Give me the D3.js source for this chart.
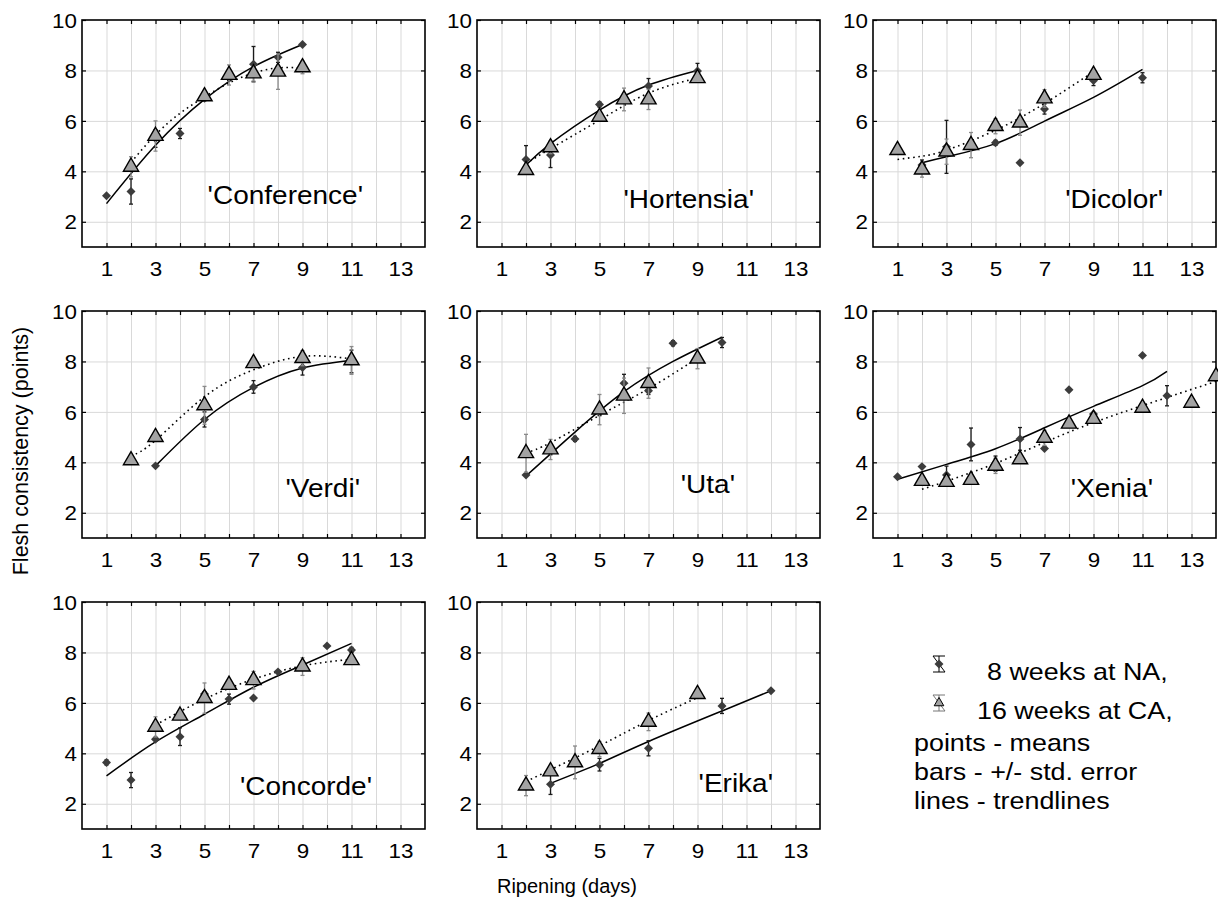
<!DOCTYPE html>
<html>
<head>
<meta charset="utf-8">
<script src="https://cdn.jsdelivr.net/npm/d3@7"></script>
<style>
  body { margin: 0; background: #fff; }
  text { font-family: "Liberation Sans", Arial, sans-serif; fill: #000; }
</style>
</head>
<body>
<svg id="chart" width="1218" height="906"></svg>
<script>
// cultivar names, one per panel
var cultivars = ["'Conference'", "'Hortensia'", "'Dicolor'", "'Verdi'", "'Uta'", "'Xenia'", "'Concorde'", "'Erika'"];

// [day, mean, std. error] - 8 weeks at NA (diamonds) / 16 weeks at CA (triangles)
var conferenceNA = [[1, 3.03, 0], [2, 3.2, 0.5], [3, 5.3, 0.35], [4, 5.5, 0.2], [5, 6.9, 0.1], [6, 7.8, 0.2], [7, 8.25, 0.7], [8, 8.52, 0.2], [9, 9.03, 0]];
var conferenceCA = [[2, 4.18, 0.4], [3, 5.4, 0.6], [5, 6.97, 0.1], [6, 7.82, 0.4], [7, 7.88, 0.3], [8, 7.95, 0.7], [9, 8.12, 0.25]];
var hortensiaNA = [[2, 4.47, 0.55], [3, 4.65, 0.5], [5, 6.65, 0.1], [6, 6.9, 0.1], [7, 7.38, 0.3], [9, 7.98, 0.3]];
var hortensiaCA = [[2, 4.05, 0.1], [3, 4.95, 0.25], [5, 6.16, 0.1], [6, 6.85, 0.45], [7, 6.85, 0.4], [9, 7.69, 0.15]];
var dicolorNA = [[2, 4.25, 0.2], [3, 4.97, 1.05], [5, 5.13, 0.1], [6, 4.34, 0], [7, 6.47, 0.2], [9, 7.6, 0.2], [11, 7.71, 0.2]];
var dicolorCA = [[1, 4.84, 0], [2, 4.07, 0.3], [3, 4.78, 0.5], [4, 5.04, 0.5], [5, 5.79, 0.3], [6, 5.93, 0.5], [7, 6.89, 0.35], [9, 7.82, 0.1]];
var verdiNA = [[3, 3.86, 0.05], [5, 5.7, 0.3], [7, 6.99, 0.25], [9, 7.76, 0.3], [11, 8.0, 0.45]];
var verdiCA = [[2, 4.08, 0], [3, 5.0, 0.05], [5, 6.26, 0.75], [7, 7.93, 0.05], [9, 8.13, 0.3], [11, 8.04, 0.55]];
var utaNA = [[2, 3.5, 0], [3, 4.5, 0.2], [4, 4.93, 0.1], [5, 6.05, 0.2], [6, 7.14, 0.35], [7, 6.84, 0.15], [8, 8.72, 0.1], [10, 8.75, 0.2]];
var utaCA = [[2, 4.36, 0.75], [3, 4.51, 0.4], [5, 6.09, 0.6], [6, 6.64, 0.7], [7, 7.14, 0.6], [9, 8.11, 0.4]];
var xeniaNA = [[1, 3.43, 0], [2, 3.83, 0], [3, 3.5, 0.35], [4, 4.71, 0.65], [5, 3.95, 0.3], [6, 4.93, 0.45], [7, 4.55, 0], [8, 6.88, 0], [9, 5.92, 0], [11, 8.24, 0], [12, 6.64, 0.4]];
var xeniaCA = [[2, 3.26, 0], [3, 3.22, 0], [4, 3.3, 0], [5, 3.86, 0.3], [6, 4.12, 0], [7, 4.97, 0.3], [8, 5.53, 0], [9, 5.72, 0.1], [11, 6.16, 0], [13, 6.36, 0], [14, 7.41, 0]];
var concordeNA = [[1, 3.64, 0.1], [2, 2.94, 0.3], [3, 4.56, 0.05], [4, 4.66, 0.35], [5, 6.35, 0.1], [6, 6.15, 0.2], [7, 6.19, 0], [8, 7.23, 0.05], [9, 7.45, 0.1], [10, 8.26, 0], [11, 8.1, 0.1]];
var concordeCA = [[3, 5.05, 0.4], [4, 5.49, 0.05], [5, 6.19, 0.6], [6, 6.71, 0.1], [7, 6.9, 0.35], [9, 7.44, 0.35], [11, 7.69, 0.15]];
var erikaNA = [[3, 2.77, 0.4], [5, 3.55, 0.25], [7, 4.2, 0.3], [10, 5.88, 0.3], [12, 6.48, 0]];
var erikaCA = [[2, 2.72, 0.4], [3, 3.28, 0.1], [4, 3.64, 0.65], [5, 4.17, 0.3], [7, 5.25, 0.35], [9, 6.35, 0]];

// trendlines, [day, value]
var conferenceTrendNA = [[1, 2.72], [3, 5.03], [5, 6.85], [7, 8.15], [9, 9.03]];
var conferenceTrendCA = [[2, 4.35], [3, 5.45], [4, 6.3], [5, 6.95], [6, 7.5], [7, 7.9], [8, 8.1], [9, 8.1]];
var hortensiaTrendNA = [[2, 4.25], [3, 5.1], [5, 6.43], [7, 7.42], [9, 8.0]];
var hortensiaTrendCA = [[2, 4.3], [3, 4.9], [5, 6.03], [7, 7.1], [9, 7.7]];
var dicolorTrendNA = [[2, 4.34], [3, 4.58], [5, 5.1], [7, 5.99], [9, 6.93], [11, 8.04]];
var dicolorTrendCA = [[1, 4.47], [2, 4.6], [3, 4.84], [5, 5.63], [7, 6.69], [9, 7.95]];
var verdiTrendNA = [[3, 3.86], [5, 5.7], [7, 6.97], [9, 7.74], [11, 8.04]];
var verdiTrendCA = [[2, 4.25], [3, 4.87], [5, 6.6], [7, 7.67], [9, 8.2], [11, 8.1]];
var utaTrendNA = [[2, 3.46], [4, 5.2], [6, 6.8], [8, 8.0], [10, 8.96]];
var utaTrendCA = [[2, 4.38], [3, 4.78], [5, 5.86], [7, 6.92], [9, 8.13]];
var xeniaTrendNA = [[1, 3.33], [3, 3.92], [5, 4.54], [7, 5.37], [9, 6.22], [11, 7.04], [12, 7.61]];
var xeniaTrendCA = [[2, 2.93], [5, 3.96], [8, 5.2], [11, 6.25], [14, 7.21]];
var concordeTrendNA = [[1, 3.11], [3, 4.45], [5, 5.55], [7, 6.62], [9, 7.5], [11, 8.36]];
var concordeTrendCA = [[3, 5.12], [5, 6.15], [7, 6.94], [9, 7.47], [11, 7.73]];
var erikaTrendNA = [[3, 2.81], [5, 3.6], [7, 4.47], [10, 5.68], [12, 6.48]];
var erikaTrendCA = [[2, 2.88], [5, 4.3], [7, 5.3], [9, 6.21]];

// tick values
var xTickLabels = [1, 3, 5, 7, 9, 11, 13];
var xMinorTicks = d3.range(1, 14);
var yTickLabels = [2, 4, 6, 8, 10];
var yGridValues = [2, 4, 6, 8];

var legendLabels = ['8 weeks at NA,', '16 weeks at CA,'];
var legendNotes = ['points - means', 'bars - +/- std. error', 'lines - trendlines'];

var panels = [
    { name: cultivars[0], na: conferenceNA, ca: conferenceCA, trendNA: conferenceTrendNA, trendCA: conferenceTrendCA },
    { name: cultivars[1], na: hortensiaNA, ca: hortensiaCA, trendNA: hortensiaTrendNA, trendCA: hortensiaTrendCA },
    { name: cultivars[2], na: dicolorNA, ca: dicolorCA, trendNA: dicolorTrendNA, trendCA: dicolorTrendCA },
    { name: cultivars[3], na: verdiNA, ca: verdiCA, trendNA: verdiTrendNA, trendCA: verdiTrendCA },
    { name: cultivars[4], na: utaNA, ca: utaCA, trendNA: utaTrendNA, trendCA: utaTrendCA },
    { name: cultivars[5], na: xeniaNA, ca: xeniaCA, trendNA: xeniaTrendNA, trendCA: xeniaTrendCA },
    { name: cultivars[6], na: concordeNA, ca: concordeCA, trendNA: concordeTrendNA, trendCA: concordeTrendCA },
    { name: cultivars[7], na: erikaNA, ca: erikaCA, trendNA: erikaTrendNA, trendCA: erikaTrendCA }
];

// layout
var W = 343, H = 227;
var colX = [82, 477, 873];
var rowY = [20, 311, 602];
var titleEnd = [281, 277, 290, 278, 258, 280, 290, 296];
var titleBase = [184, 188, 188, 186, 182, 186, 193, 190];
var stretch = 'scale(1.12,1)';

var svg = d3.select('#chart');

var x = d3.scaleLinear().domain([0, 14]).range([0, W]);
var y = d3.scaleLinear().domain([1, 10]).range([H, 0]);

var diamond = d3.symbol().type(d3.symbolSquare).size(40);
var triangle = d3.symbol().type(d3.symbolTriangle).size(100);

var trend = d3.line()
    .x(function (d) { return x(d[0]); })
    .y(function (d) { return y(d[1]); })
    .curve(d3.curveNatural);

function stripDomain(sel) { sel.select('.domain').remove(); }

function errorBars(g, data, color) {
    var bars = g.append('g').attr('stroke', color).attr('stroke-width', 1.3)
        .selectAll('g').data(data.filter(function (d) { return d[2] > 0; }))
        .enter().append('g');
    bars.append('line')
        .attr('x1', function (d) { return x(d[0]); }).attr('x2', function (d) { return x(d[0]); })
        .attr('y1', function (d) { return y(d[1] - d[2]); }).attr('y2', function (d) { return y(d[1] + d[2]); });
    [-1, 1].forEach(function (s) {
        bars.append('line')
            .attr('x1', function (d) { return x(d[0]) - 2; }).attr('x2', function (d) { return x(d[0]) + 2; })
            .attr('y1', function (d) { return y(d[1] + s * d[2]); }).attr('y2', function (d) { return y(d[1] + s * d[2]); });
    });
}

panels.forEach(function (p, i) {
    var g = svg.append('g')
        .attr('transform', 'translate(' + colX[i % 3] + ',' + rowY[Math.floor(i / 3)] + ')');

    // grid
    g.append('g').attr('transform', 'translate(0,' + H + ')')
        .call(d3.axisBottom(x).tickValues(xMinorTicks).tickSize(-H).tickFormat(''))
        .call(stripDomain)
        .selectAll('line').attr('stroke', '#d9d9d9');
    g.append('g')
        .call(d3.axisLeft(y).tickValues(yGridValues).tickSize(-W).tickFormat(''))
        .call(stripDomain)
        .selectAll('line').attr('stroke', '#d9d9d9');

    // inner ticks on all sides
    g.append('g').attr('transform', 'translate(0,' + H + ')')
        .call(d3.axisBottom(x).tickValues(xMinorTicks).tickSize(-4).tickFormat('')).call(stripDomain);
    g.append('g')
        .call(d3.axisTop(x).tickValues(xMinorTicks).tickSize(-4).tickFormat('')).call(stripDomain);
    g.append('g')
        .call(d3.axisLeft(y).tickValues(yTickLabels).tickSize(-4).tickFormat('')).call(stripDomain);
    g.append('g').attr('transform', 'translate(' + W + ',0)')
        .call(d3.axisRight(y).tickValues(yTickLabels).tickSize(-4).tickFormat('')).call(stripDomain);
    g.selectAll('.tick line').filter(function () { return d3.select(this).attr('stroke') !== '#d9d9d9'; })
        .attr('stroke', '#000').attr('stroke-width', 1.2);

    // tick labels
    g.append('g').attr('transform', 'translate(0,' + H + ')')
        .call(d3.axisBottom(x).tickValues(xTickLabels).tickSize(0))
        .call(stripDomain)
        .attr('font-size', 20).attr('font-family', null)
        .selectAll('text').attr('y', 29).attr('dy', null).attr('transform', stretch);
    g.append('g')
        .call(d3.axisLeft(y).tickValues(yTickLabels).tickSize(0))
        .call(stripDomain)
        .attr('font-size', 20).attr('font-family', null)
        .selectAll('text').attr('x', -4.5).attr('dy', '0.36em').attr('transform', stretch);

    // frame
    g.append('rect').attr('width', W).attr('height', H)
        .attr('fill', 'none').attr('stroke', '#000').attr('stroke-width', 1.6);

    // trendlines
    g.append('path').datum(p.trendNA).attr('d', trend)
        .attr('fill', 'none').attr('stroke', '#000').attr('stroke-width', 1.5);
    g.append('path').datum(p.trendCA).attr('d', trend)
        .attr('fill', 'none').attr('stroke', '#000').attr('stroke-width', 1.6)
        .attr('stroke-dasharray', '1.6,3.6');

    // 8 weeks at NA
    errorBars(g, p.na, '#1a1a1a');
    g.append('g').selectAll('path').data(p.na).enter().append('path')
        .attr('d', diamond)
        .attr('transform', function (d) { return 'translate(' + x(d[0]) + ',' + y(d[1]) + ') rotate(45)'; })
        .attr('fill', '#3c3c3c');

    // 16 weeks at CA
    errorBars(g, p.ca, '#8a8a8a');
    g.append('g').selectAll('path').data(p.ca).enter().append('path')
        .attr('d', triangle)
        .attr('transform', function (d) { return 'translate(' + x(d[0]) + ',' + y(d[1]) + ')'; })
        .attr('fill', '#a3a3a3').attr('stroke', '#000').attr('stroke-width', 1.4);

    // cultivar name
    g.append('text')
        .attr('transform', 'translate(' + titleEnd[i] + ',' + titleBase[i] + ') ' + stretch)
        .attr('text-anchor', 'end').attr('font-size', 25)
        .text(p.name);
});

// axis titles
svg.append('text')
    .attr('transform', 'translate(28,451) rotate(-90)')
    .attr('text-anchor', 'middle').attr('font-size', 21.5)
    .text('Flesh consistency (points)');
svg.append('text')
    .attr('x', 567).attr('y', 893)
    .attr('text-anchor', 'middle').attr('font-size', 20)
    .text('Ripening (days)');

// legend
var legend = svg.append('g');
var legendSym = [{ cx: 939, cy: 664, color: '#000', shape: diamond, fill: '#3c3c3c', rot: 45 },
                 { cx: 939, cy: 703, color: '#777', shape: d3.symbol().type(d3.symbolTriangle).size(40), fill: '#a3a3a3', rot: 0 }];
legendSym.forEach(function (s, k) {
    var sg = legend.append('g').attr('transform', 'translate(' + s.cx + ',' + s.cy + ')')
        .attr('stroke', s.color).attr('stroke-width', 1);
    sg.append('line').attr('x1', -6).attr('x2', 6).attr('y1', -8).attr('y2', -8);
    sg.append('line').attr('x1', -6).attr('x2', 6).attr('y1', 8).attr('y2', 8);
    sg.append('line').attr('x1', 0).attr('x2', 0).attr('y1', -8).attr('y2', 8);
    sg.append('line').attr('x1', -6).attr('x2', 6).attr('y1', -8).attr('y2', 8);
    sg.append('path').attr('d', s.shape).attr('transform', 'rotate(' + s.rot + ')')
        .attr('fill', s.fill).attr('stroke', k === 1 ? '#000' : 'none');
});
legend.append('text').attr('transform', 'translate(987,680) ' + stretch)
    .attr('font-size', 24).text(legendLabels[0]);
legend.append('text').attr('transform', 'translate(977,719) ' + stretch)
    .attr('font-size', 24).text(legendLabels[1]);
legend.selectAll('text.note').data(legendNotes).enter().append('text')
    .attr('class', 'note')
    .attr('transform', function (d, k) { return 'translate(914,' + (751 + k * 29) + ') ' + stretch; })
    .attr('font-size', 24).text(function (d) { return d; });
</script>
</body>
</html>
